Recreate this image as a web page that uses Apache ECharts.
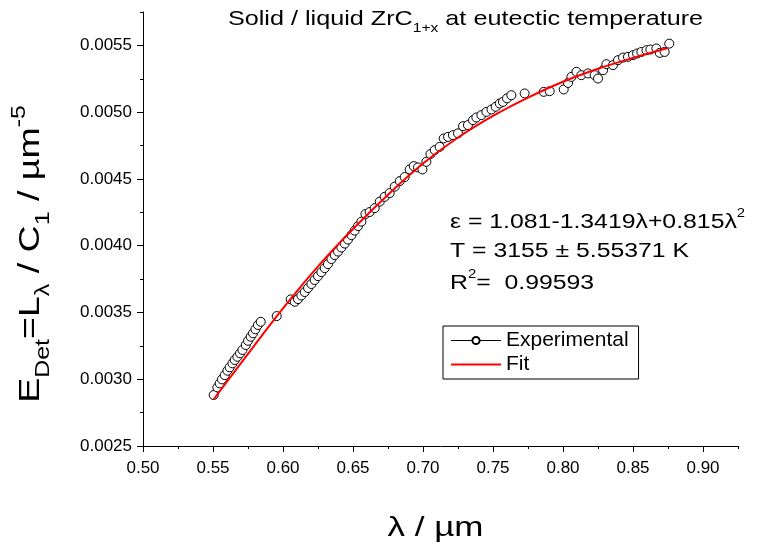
<!DOCTYPE html>
<html><head><meta charset="utf-8">
<script src="https://cdn.jsdelivr.net/npm/echarts@6/dist/echarts.min.js"></script>
<style>html,body{margin:0;padding:0;background:#fff}#c{width:757px;height:550px}</style>
</head><body><div id="c"></div>
<script>
// Experimental points (wavelength in µm, E_Det)
const lambdaExp = [
 0.5505,0.5531,0.5548,0.5564,0.5584,0.5603,0.5619,0.5639,0.5655,0.5674,
 0.5693,0.5710,0.5734,0.5750,0.5769,0.5786,0.5803,0.5821,0.5841,0.5955,
 0.6055,0.6084,0.6107,0.6131,0.6155,0.6179,0.6203,0.6226,0.6250,0.6274,
 0.6298,0.6321,0.6346,0.6369,0.6393,0.6417,0.6441,0.6464,0.6489,0.6512,
 0.6536,0.6560,0.6589,0.6619,0.6655,0.6691,0.6726,0.6762,0.6798,0.6834,
 0.6869,0.6905,0.6934,0.6964,0.6996,0.7024,0.7053,0.7084,0.7119,0.7148,
 0.7179,0.7214,0.7250,0.7286,0.7321,0.7357,0.7381,0.7417,0.7453,0.7489,
 0.7519,0.7548,0.7571,0.7600,0.7631,0.7726,0.7862,0.7905,0.8005,0.8036,
 0.8060,0.8096,0.8131,0.8179,0.8226,0.8250,0.8286,0.8310,0.8357,0.8393,
 0.8429,0.8464,0.8500,0.8529,0.8560,0.8596,0.8624,0.8667,0.8691,0.8726,
 0.8759];
const valueExp = [
 0.002882,0.002939,0.002969,0.002999,0.003031,0.003064,0.003089,0.003119,0.003144,0.003168,
 0.003194,0.003219,0.003256,0.003288,0.003318,0.003344,0.003374,0.003406,0.003430,0.003473,
 0.003598,0.003580,0.003600,0.003627,0.003653,0.003683,0.003713,0.003743,0.003772,0.003802,
 0.003832,0.003862,0.003900,0.003930,0.003956,0.003986,0.004016,0.004046,0.004079,0.004113,
 0.004147,0.004180,0.004237,0.004252,0.004281,0.004330,0.004366,0.004394,0.004442,0.004484,
 0.004514,0.004571,0.004596,0.004586,0.004571,0.004628,0.004686,0.004716,0.004740,0.004803,
 0.004815,0.004828,0.004841,0.004895,0.004903,0.004940,0.004960,0.004978,0.005002,0.005020,
 0.005040,0.005065,0.005077,0.005103,0.005127,0.005140,0.005152,0.005157,0.005170,0.005219,
 0.005264,0.005302,0.005277,0.005290,0.005277,0.005252,0.005314,0.005359,0.005352,0.005389,
 0.005409,0.005414,0.005427,0.005439,0.005451,0.005464,0.005469,0.005477,0.005444,0.005451,
 0.005513];
// Fit curve
const lambdaFit = [0.5505,0.575,0.60,0.625,0.65,0.675,0.70,0.725,0.75,0.775,0.80,0.825,0.85,0.875];
const valueFit  = [0.002850,0.003190,0.003530,0.003845,0.004125,0.004382,0.004615,0.004810,0.004972,0.005109,0.005228,0.005325,0.005406,0.005480];
// Axis ticks
const xMajorTicks = [0.50,0.55,0.60,0.65,0.70,0.75,0.80,0.85,0.90];
const xMinorTicks = [0.525,0.575,0.625,0.675,0.725,0.775,0.825,0.875,0.925];
const yMajorTicks = [0.0025,0.0030,0.0035,0.0040,0.0045,0.0050,0.0055];
const yMinorTicks = [0.00275,0.00325,0.00375,0.00425,0.00475,0.00525,0.00575];
const titleText = '{n|Solid / liquid ZrC}{sub|1+x}{n| at eutectic temperature}';
const yNameText = '{n|E}{sub|Det}{n|=L}{sub|λ}{n| / C}{sub|1}{n| / µm}{sup|-5}';
const xNameText = 'λ / µm';
const noteLines = ['{n|ε = 1.081-1.3419λ+0.815λ}{sup|2}', '{n|T = 3155 ± 5.55371 K}', '{n|R}{sup|2}{n|=  0.99593}'];
const seriesNames = ['Experimental', 'Fit'];

const FONT = '"Liberation Sans", Arial, sans-serif';
const chart = echarts.init(document.getElementById('c'));
const expData = lambdaExp.map((l, i) => [l, valueExp[i]]);
const fitData = lambdaFit.map((l, i) => [l, valueFit[i]]);

function richText(main, sub, lh) {
  return {
    n: {fontSize: main, lineHeight: lh, verticalAlign: 'middle', fontFamily: FONT, fill: '#000'},
    sub: {fontSize: sub, lineHeight: sub, verticalAlign: 'bottom', fontFamily: FONT, fill: '#000'},
    sup: {fontSize: sub, lineHeight: sub, verticalAlign: 'top', fontFamily: FONT, fill: '#000'}
  };
}

const option = {
  animation: false,
  backgroundColor: '#fff',
  textStyle: {fontFamily: FONT},
  grid: {left: 143, right: 19, top: 12, bottom: 104},
  xAxis: [{
    type: 'value', min: 0.5, max: 0.925, position: 'bottom',
    axisLine: {show: true, onZero: false, lineStyle: {color: '#000', width: 1}},
    axisTick: {show: true, customValues: xMajorTicks, length: 6, lineStyle: {color: '#000'}},
    axisLabel: {customValues: xMajorTicks, formatter: v => v.toFixed(2), color: '#000', fontSize: 17, fontFamily: FONT, margin: 14},
    splitLine: {show: false}
  }, {
    type: 'value', min: 0.5, max: 0.925, position: 'bottom',
    axisLine: {show: false, onZero: false},
    axisTick: {show: true, customValues: xMinorTicks, length: 3, lineStyle: {color: '#000'}},
    axisLabel: {show: false}, splitLine: {show: false}
  }],
  yAxis: [{
    type: 'value', min: 0.0025, max: 0.00575, position: 'left',
    axisLine: {show: true, onZero: false, lineStyle: {color: '#000', width: 1}},
    axisTick: {show: true, customValues: yMajorTicks, length: 6, lineStyle: {color: '#000'}},
    axisLabel: {customValues: yMajorTicks, formatter: v => v.toFixed(4), color: '#000', fontSize: 17, fontFamily: FONT, margin: 11},
    splitLine: {show: false}
  }, {
    type: 'value', min: 0.0025, max: 0.00575, position: 'left',
    axisLine: {show: false, onZero: false},
    axisTick: {show: true, customValues: yMinorTicks, length: 3, lineStyle: {color: '#000'}},
    axisLabel: {show: false}, splitLine: {show: false}
  }],
  legend: {
    orient: 'vertical', left: 443, top: 326,
    padding: [4, 10, 4, 7], itemGap: 3,
    borderColor: '#000', borderWidth: 1, borderRadius: 0,
    itemWidth: 50, itemHeight: 9,
    selectedMode: false,
    textStyle: {fontSize: 21, color: '#000', fontFamily: FONT},
    data: [
      {name: seriesNames[0], lineStyle: {color: '#000', width: 1, opacity: 1}},
      {name: seriesNames[1], itemStyle: {opacity: 0}}
    ]
  },
  series: [{
    name: seriesNames[0], type: 'line', data: expData,
    symbol: 'circle', symbolSize: 9, showAllSymbol: true,
    itemStyle: {color: '#fff', borderColor: '#000', borderWidth: 1},
    lineStyle: {color: '#000', width: 1, opacity: 0}, z: 2
  }, {
    name: seriesNames[1], type: 'line', data: fitData, smooth: 0.4,
    symbol: 'none', lineStyle: {color: '#ff0000', width: 2}, itemStyle: {color: '#ff0000'}, z: 3
  }],
  graphic: [
    {type: 'text', x: 465.5, y: 19, scaleX: 1.2, style: {text: titleText, rich: richText(21, 13, 31), align: 'center', verticalAlign: 'middle'}},
    {type: 'text', x: 31, y: 254, rotation: Math.PI / 2, scaleX: 1.25, style: {text: yNameText, rich: richText(30, 20, 44), align: 'center', verticalAlign: 'middle'}},
    {type: 'text', x: 435.5, y: 528, scaleX: 1.25, style: {text: xNameText, font: '28px ' + FONT, fill: '#000', align: 'center', verticalAlign: 'middle'}},
    {type: 'text', x: 450, y: 222, scaleX: 1.24, style: {text: noteLines[0], rich: richText(20, 12, 28), align: 'left', verticalAlign: 'middle'}},
    {type: 'text', x: 450, y: 251, scaleX: 1.24, style: {text: noteLines[1], rich: richText(20, 12, 28), align: 'left', verticalAlign: 'middle'}},
    {type: 'text', x: 450, y: 283, scaleX: 1.24, style: {text: noteLines[2], rich: richText(20, 12, 28), align: 'left', verticalAlign: 'middle'}}
  ]
};
chart.setOption(option);
</script>
</body></html>
